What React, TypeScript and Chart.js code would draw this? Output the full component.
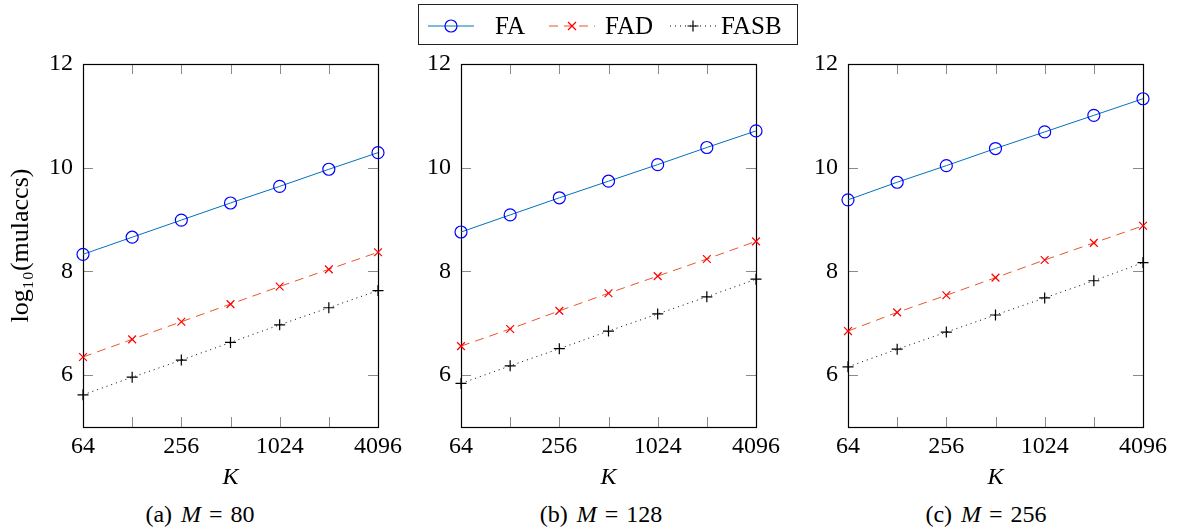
import React, { useEffect, useRef } from "react";
import { Chart, registerables } from "chart.js";

Chart.register(...registerables);

// ---------- data ----------
const K_VALUES = [64, 128, 256, 512, 1024, 2048, 4096];
const X_TICK_LABELS = [64, 256, 1024, 4096];
const Y_TICKS = [6, 8, 10, 12];
const SERIES_NAMES = ["FA", "FAD", "FASB"];
const M_VALUES = [80, 128, 256];
const PANEL_LETTERS = ["a", "b", "c"];

const FA_M80 = [8.33, 8.66, 8.99, 9.32, 9.64, 9.97, 10.29];
const FAD_M80 = [6.35, 6.69, 7.03, 7.37, 7.71, 8.04, 8.37];
const FASB_M80 = [5.62, 5.96, 6.29, 6.63, 6.97, 7.3, 7.63];

const FA_M128 = [8.76, 9.09, 9.42, 9.74, 10.06, 10.39, 10.71];
const FAD_M128 = [6.56, 6.89, 7.24, 7.58, 7.91, 8.24, 8.58];
const FASB_M128 = [5.84, 6.18, 6.51, 6.85, 7.18, 7.51, 7.85];

const FA_M256 = [9.38, 9.72, 10.04, 10.37, 10.69, 11.01, 11.33];
const FAD_M256 = [6.85, 7.21, 7.54, 7.88, 8.22, 8.55, 8.88];
const FASB_M256 = [6.16, 6.5, 6.83, 7.16, 7.49, 7.82, 8.17];

const PANEL_DATA = [
  [FA_M80, FAD_M80, FASB_M80],
  [FA_M128, FAD_M128, FASB_M128],
  [FA_M256, FAD_M256, FASB_M256],
];

// ---------- layout / style ----------
const FONT = "'Liberation Serif', 'Times New Roman', serif";
const PLOT_LEFTS = [83, 461, 848];
const CAPTION_CENTERS = [200, 601, 986];
const Y_AXIS_W = 83;
const X_AXIS_H = 65;
const CANVAS_W = 408;
const CANVAS_H = 492;

const STYLES = [
  { line: "#0072BD", marker: "#0000FF", dash: [] as number[], point: "circle", r: 6 },
  { line: "#E8562A", marker: "#FF0000", dash: [9, 6], point: "crossRot", r: 5.5 },
  { line: "#000000", marker: "#000000", dash: [1, 4], point: "cross", r: 5.5 },
];

const frameTicks = {
  id: "frameTicks",
  beforeDatasetsDraw(chart: any) {
    const { ctx, chartArea: a, scales } = chart;
    const xs = scales.x;
    const ys = scales.y;
    ctx.save();
    ctx.strokeStyle = "#8a8a8a";
    ctx.lineWidth = 1;
    ctx.setLineDash([]);
    ctx.beginPath();
    for (const t of xs.ticks) {
      const px = Math.round(xs.getPixelForValue(t.value)) + 0.5;
      ctx.moveTo(px, a.bottom);
      ctx.lineTo(px, a.bottom - 10);
      ctx.moveTo(px, a.top);
      ctx.lineTo(px, a.top + 10);
    }
    for (const t of ys.ticks) {
      const py = Math.round(ys.getPixelForValue(t.value)) + 0.5;
      ctx.moveTo(a.left, py);
      ctx.lineTo(a.left + 10, py);
      ctx.moveTo(a.right, py);
      ctx.lineTo(a.right - 10, py);
    }
    ctx.stroke();
    ctx.strokeStyle = "#000";
    ctx.lineWidth = 1.2;
    ctx.strokeRect(a.left + 0.5, a.top + 0.5, a.right - a.left, a.bottom - a.top);
    ctx.restore();
  },
};

function Panel({ idx }: { idx: number }) {
  const ref = useRef<HTMLCanvasElement>(null);
  useEffect(() => {
    const series = PANEL_DATA[idx];
    const chart = new Chart(ref.current as HTMLCanvasElement, {
      type: "line",
      data: {
        datasets: series.map((vals, s) => ({
          label: SERIES_NAMES[s],
          data: K_VALUES.map((k, i) => ({ x: k, y: vals[i] })),
          borderColor: STYLES[s].line,
          borderWidth: 1,
          borderDash: STYLES[s].dash,
          pointStyle: STYLES[s].point as any,
          pointRadius: STYLES[s].r,
          pointBorderColor: STYLES[s].marker,
          pointBackgroundColor: "rgba(0,0,0,0)",
          pointBorderWidth: 1.2,
          fill: false,
          tension: 0,
          clip: false as any,
        })),
      },
      plugins: [frameTicks],
      options: {
        animation: false,
        responsive: false,
        maintainAspectRatio: false,
        layout: { padding: { top: 64, right: 30, left: 0, bottom: 0 } },
        plugins: { legend: { display: false }, tooltip: { enabled: false } },
        scales: {
          x: {
            type: "logarithmic",
            min: 64,
            max: 4096,
            afterBuildTicks: (s: any) => {
              s.ticks = K_VALUES.map((v) => ({ value: v }));
            },
            afterFit: (s: any) => {
              s.height = X_AXIS_H;
            },
            grid: { display: false, drawTicks: false },
            border: { display: false },
            ticks: {
              autoSkip: false,
              maxRotation: 0,
              padding: 5,
              color: "#000",
              font: { family: FONT, size: 24 },
              callback: (v: any) => (X_TICK_LABELS.includes(Number(v)) ? String(v) : ""),
            },
            title: {
              display: true,
              text: "K",
              color: "#000",
              padding: 0,
              font: { family: FONT, size: 24, style: "italic" },
            },
          },
          y: {
            type: "linear",
            min: 5,
            max: 12,
            afterBuildTicks: (s: any) => {
              s.ticks = Y_TICKS.map((v) => ({ value: v }));
            },
            afterFit: (s: any) => {
              s.width = Y_AXIS_W;
            },
            grid: { display: false, drawTicks: false },
            border: { display: false },
            ticks: { padding: 10, color: "#000", font: { family: FONT, size: 24 } },
            title: {
              display: idx === 0,
              text: "log₁₀(mulaccs)",
              color: "#000",
              padding: { top: 6, bottom: 0 },
              font: { family: FONT, size: 26 },
            },
          },
        },
      } as any,
    });
    return () => chart.destroy();
  }, [idx]);
  return (
    <canvas
      ref={ref}
      width={CANVAS_W}
      height={CANVAS_H}
      style={{
        position: "absolute",
        left: PLOT_LEFTS[idx] - Y_AXIS_W,
        top: 0,
        width: CANVAS_W,
        height: CANVAS_H,
      }}
    />
  );
}

function LegendSample({ s, left }: { s: number; left: number }) {
  const st = STYLES[s];
  const w = 46;
  const c = w / 2;
  const y = 21;
  let marker: React.ReactNode = null;
  if (st.point === "circle") {
    marker = <circle cx={c} cy={y} r={6} fill="none" stroke={st.marker} strokeWidth={1.2} />;
  } else if (st.point === "crossRot") {
    const d = 4;
    marker = (
      <path d={`M${c - d} ${y - d}L${c + d} ${y + d}M${c - d} ${y + d}L${c + d} ${y - d}`} stroke={st.marker} strokeWidth={1.2} />
    );
  } else {
    const d = 5.5;
    marker = <path d={`M${c - d} ${y}L${c + d} ${y}M${c} ${y - d}L${c} ${y + d}`} stroke={st.marker} strokeWidth={1.2} />;
  }
  return (
    <svg width={w} height={41} style={{ position: "absolute", left, top: 0 }}>
      <line x1={0} y1={y} x2={w} y2={y} stroke={st.line} strokeWidth={1} strokeDasharray={st.dash.length ? st.dash.join(" ") : undefined} />
      {marker}
    </svg>
  );
}

export default function App() {
  const sampleLefts = [9, 130, 251];
  const textLefts = [76, 186, 302];
  return (
    <div
      style={{
        position: "fixed",
        left: 0,
        top: 0,
        width: 1178,
        height: 531,
        background: "#fff",
        fontFamily: FONT,
        color: "#000",
      }}
    >
      {[0, 1, 2].map((i) => (
        <Panel key={i} idx={i} />
      ))}
      <div
        style={{
          position: "absolute",
          left: 418,
          top: 4,
          width: 380,
          height: 41,
          boxSizing: "border-box",
          border: "1px solid #222",
        }}
      >
        {SERIES_NAMES.map((name, s) => (
          <React.Fragment key={name}>
            <LegendSample s={s} left={sampleLefts[s]} />
            <div
              style={{
                position: "absolute",
                left: textLefts[s],
                top: 0,
                height: 39,
                lineHeight: "41px",
                fontSize: 25,
                whiteSpace: "nowrap",
              }}
            >
              {name}
            </div>
          </React.Fragment>
        ))}
      </div>
      {M_VALUES.map((m, i) => (
        <div
          key={m}
          style={{
            position: "absolute",
            left: CAPTION_CENTERS[i] - 150,
            width: 300,
            top: 500,
            height: 28,
            lineHeight: "28px",
            fontSize: 24,
            textAlign: "center",
            whiteSpace: "nowrap",
          }}
        >
          ({PANEL_LETTERS[i]})
          <span style={{ display: "inline-block", width: 9 }} />
          <i>M</i>
          <span style={{ display: "inline-block", width: 8 }} />=
          <span style={{ display: "inline-block", width: 8 }} />
          {m}
        </div>
      ))}
    </div>
  );
}
